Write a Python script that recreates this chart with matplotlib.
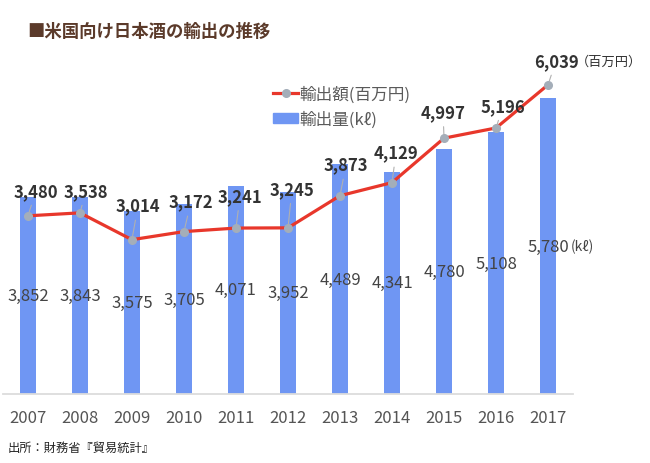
import numpy as np
import matplotlib.pyplot as plt
from matplotlib.lines import Line2D
from matplotlib.patches import Patch

plt.rcParams['font.family'] = ['Noto Sans CJK JP', 'DejaVu Sans']

years = ['2007', '2008', '2009', '2010', '2011', '2012',
         '2013', '2014', '2015', '2016', '2017']
volume_kl = [3852, 3843, 3575, 3705, 4071, 3952, 4489, 4341, 4780, 5108, 5780]
value_myen = [3480, 3538, 3014, 3172, 3241, 3245, 3873, 4129, 4997, 5196, 6039]

# where the amount labels sit relative to their point (pixels)
label_dx = [8, 6, 6, 7, 4, 4, 6, 4, -1, 7, 8]
label_dy = [25, 22, 34, 30, 32, 39, 31, 30, 26, 22, 24]

W, H = 650, 464
PT = 0.72  # points per pixel at dpi 100

fig = plt.figure(figsize=(W / 100, H / 100), dpi=100)
ax = fig.add_axes([3 / W, 1 - 395 / H, 570 / W, 358.4 / H])

x = np.arange(len(years))
ax.bar(x, volume_kl, width=0.31, color='#6f96f3', zorder=1)
ax.plot(x, value_myen, color='#e8372b', lw=2.3, marker='o', ms=5.5,
        mfc='#a4aeb9', mec='#a4aeb9', zorder=3)

ax.set_xlim(-0.48, 10.48)
ax.set_ylim(0, 7000)
for s in ['top', 'right', 'left']:
    ax.spines[s].set_visible(False)
ax.spines['bottom'].set_color('#dcdcdc')
ax.spines['bottom'].set_linewidth(1.3)
ax.set_yticks([])
ax.set_xticks(x, years)
ax.tick_params(axis='x', length=0, pad=11, labelsize=12, labelcolor='#555555')

# volume labels in the middle of the bars
for xi, v in zip(x, volume_kl):
    ax.text(xi, v / 2, f'{v:,}', ha='center', va='center',
            fontsize=12, color='#444444', zorder=4)
ax.annotate('(kℓ)', xy=(x[-1], volume_kl[-1] / 2), xytext=(23 * PT, 0),
            textcoords='offset points', ha='left', va='center',
            fontsize=10, color='#444444')

# amount labels with leader lines
for xi, v, dx, dy in zip(x, value_myen, label_dx, label_dy):
    ax.annotate(f'{v:,}', xy=(xi, v), xytext=(dx * PT, dy * PT),
                textcoords='offset points', ha='center', va='center',
                fontsize=12, fontweight='bold', color='#333333', zorder=5,
                arrowprops=dict(arrowstyle='-', color='#b0b0b0', lw=0.8,
                                shrinkA=2, shrinkB=3))
ax.annotate('（百万円）', xy=(x[-1], value_myen[-1]), xytext=(28 * PT, 24 * PT),
            textcoords='offset points', ha='left', va='center',
            fontsize=9.5, color='#333333')

handles = [Line2D([], [], color='#e8372b', lw=2.3, marker='o', ms=5.5,
                  mfc='#a4aeb9', mec='#a4aeb9'),
           Patch(color='#6f96f3')]
fig.legend(handles, ['輸出額(百万円)', '輸出量(kℓ)'], loc='center left',
           bbox_to_anchor=(273 / W, 1 - 107.5 / H), frameon=False,
           fontsize=12, labelcolor='#5a5a5a', handlelength=1.5,
           handleheight=0.5, handletextpad=0.1, labelspacing=0.5,
           borderpad=0, borderaxespad=0)

fig.text(27 / W, 1 - 31.7 / H, '■米国向け日本酒の輸出の推移', fontsize=12.5,
         fontweight='bold', color='#5b3a2a', va='center')
fig.text(8 / W, 1 - 448 / H, '出所：財務省『貿易統計』', fontsize=8.8,
         va='center', color='#222222')

fig.savefig('out.png', dpi=100)
